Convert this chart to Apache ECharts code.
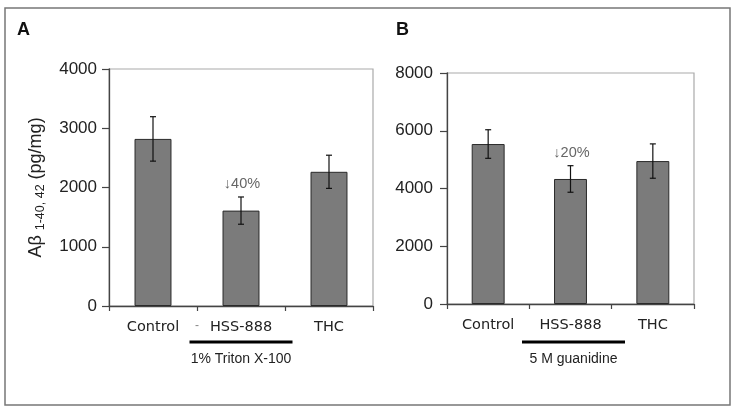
<!DOCTYPE html>
<html>
<head>
<meta charset="utf-8">
<script src="https://cdn.jsdelivr.net/npm/echarts@6/dist/echarts.min.js"></script>
<style>html,body{margin:0;padding:0;background:#fff;}#c{width:732px;height:416px;}</style>
</head>
<body>
<div id="c"></div>
<script>
// ---- data ----
const categories = ['Control', 'HSS-888', 'THC'];
const valuesA = [2820, 1610, 2265];
const errorsA = [375, 230, 280];
const notesA = ['', '↓40%', ''];
const groupLabelA = '1% Triton X-100';
const valuesB = [5540, 4330, 4950];
const errorsB = [495, 460, 595];
const notesB = ['', '↓20%', ''];
const groupLabelB = '5 M guanidine';
const yTicksA = {min: 0, max: 4000, interval: 1000};
const yTicksB = {min: 0, max: 8000, interval: 2000};
const panelLetters = ['A', 'B'];
const yTitleMain = 'Aβ';
const yTitleSub = '1-40, 42';
const yTitleUnit = ' (pg/mg)';

const chart = echarts.init(document.getElementById('c'), null, {renderer: 'canvas'});

function errSeries(xi, yi, vals, errs, notes) {
  return {
    type: 'custom', xAxisIndex: xi, yAxisIndex: yi, z: 5,
    data: vals.map((v, i) => [i, v, errs[i], notes[i]]),
    renderItem: function (params, api) {
      const i = api.value(0), v = api.value(1), e = api.value(2);
      const note = notes[i];
      const hi = api.coord([i, v + e]);
      const lo = api.coord([i, v - e]);
      const cap = 3;
      const st = {stroke: '#111', lineWidth: 1.2};
      const children = [
        {type: 'line', shape: {x1: hi[0], y1: hi[1], x2: lo[0], y2: lo[1]}, style: st},
        {type: 'line', shape: {x1: hi[0] - cap, y1: hi[1], x2: hi[0] + cap, y2: hi[1]}, style: st},
        {type: 'line', shape: {x1: lo[0] - cap, y1: lo[1], x2: lo[0] + cap, y2: lo[1]}, style: st}
      ];
      if (note) {
        children.push({type: 'text', style: {text: note, x: hi[0] + 1, y: hi[1] - 13, align: 'center', verticalAlign: 'middle',
          fill: '#666', font: '14.5px "Liberation Sans", Arial, sans-serif'}});
      }
      return {type: 'group', children: children};
    }
  };
}

const tickFont = {fontFamily: '"Liberation Sans", Arial, sans-serif', fontSize: 17, color: '#222'};
const catFont = {fontFamily: '"DejaVu Sans", sans-serif', fontSize: 14.5, color: '#222'};

function yAxis(gi, t, withName, margin) {
  const o = {
    type: 'value', gridIndex: gi, min: t.min, max: t.max, interval: t.interval,
    axisLine: {show: true, lineStyle: {color: '#444', width: 1.3}},
    axisTick: {show: true, length: 7, lineStyle: {color: '#444', width: 1.2}},
    axisLabel: Object.assign({margin: margin, formatter: function (v) { return String(v); }}, tickFont),
    splitLine: {show: false}
  };
  if (withName) {
    o.name = '{m|' + yTitleMain + ' }{s|' + yTitleSub + '}{m|' + yTitleUnit + '}';
    o.nameLocation = 'middle';
    o.nameRotate = 90;
    o.nameGap = 64;
    o.nameTextStyle = {
      rich: {
        m: {fontFamily: '"Liberation Sans", Arial, sans-serif', fontSize: 18, color: '#222', verticalAlign: 'bottom'},
        s: {fontFamily: '"Liberation Sans", Arial, sans-serif', fontSize: 12.5, color: '#222', verticalAlign: 'bottom', padding: [0, 0, -2, 0]}
      }
    };
  }
  return o;
}

function xAxis(gi) {
  return {
    type: 'category', gridIndex: gi, data: categories,
    axisLine: {show: true, lineStyle: {color: '#444', width: 1.3}},
    axisTick: {show: true, length: 5, lineStyle: {color: '#444', width: 1.2}},
    axisLabel: Object.assign({margin: 14}, catFont)
  };
}

const option = {
  animation: false,
  backgroundColor: '#fff',
  grid: [
    {left: 109, top: 69, width: 264, height: 237, show: true, borderColor: '#aaa', borderWidth: 1.2, backgroundColor: '#fff'},
    {left: 447, top: 73, width: 247, height: 231, show: true, borderColor: '#aaa', borderWidth: 1.2, backgroundColor: '#fff'}
  ],
  xAxis: [xAxis(0), xAxis(1)],
  yAxis: [yAxis(0, yTicksA, true, 12), yAxis(1, yTicksB, false, 14)],
  series: [
    {type: 'bar', xAxisIndex: 0, yAxisIndex: 0, data: valuesA, barWidth: '42%',
      itemStyle: {color: '#7b7b7b', borderColor: '#2a2a2a', borderWidth: 1}},
    errSeries(0, 0, valuesA, errorsA, notesA),
    {type: 'bar', xAxisIndex: 1, yAxisIndex: 1, data: valuesB, barWidth: '40%',
      itemStyle: {color: '#7b7b7b', borderColor: '#2a2a2a', borderWidth: 1}},
    errSeries(1, 1, valuesB, errorsB, notesB)
  ]
};
chart.setOption(option);

// annotations: group underline + label, panel letters, outer frame
const lineHalf = 51.5;
const cA = chart.convertToPixel({xAxisIndex: 0}, categories[1]);
const cB = chart.convertToPixel({xAxisIndex: 1}, categories[1]) + 3;
const baseA = chart.convertToPixel({yAxisIndex: 0}, 0);
const baseB = chart.convertToPixel({yAxisIndex: 1}, 0);
const groupFont = '14px "Liberation Sans", Arial, sans-serif';
chart.setOption({
  graphic: [
    {type: 'rect', shape: {x: 5, y: 8, width: 725, height: 397}, style: {fill: null, stroke: '#777', lineWidth: 1.5}, z: 0, silent: true},
    {type: 'text', left: 17, top: 21, style: {text: panelLetters[0], font: 'bold 18px "Liberation Sans", Arial, sans-serif', fill: '#111'}},
    {type: 'text', left: 396, top: 21, style: {text: panelLetters[1], font: 'bold 18px "Liberation Sans", Arial, sans-serif', fill: '#111'}},
    {type: 'line', shape: {x1: cA - lineHalf, y1: baseA + 36, x2: cA + lineHalf, y2: baseA + 36}, style: {stroke: '#000', lineWidth: 3}},
    {type: 'line', shape: {x1: cB - lineHalf, y1: baseB + 38, x2: cB + lineHalf, y2: baseB + 38}, style: {stroke: '#000', lineWidth: 3}},
    {type: 'text', x: cA, y: baseA + 53, style: {text: groupLabelA, font: groupFont, fill: '#222', align: 'center', verticalAlign: 'middle'}},
    {type: 'text', x: cB, y: baseB + 55, style: {text: groupLabelB, font: groupFont, fill: '#222', align: 'center', verticalAlign: 'middle'}},
    {type: 'text', x: 197, y: baseA + 20, style: {text: '-', font: '12px "Liberation Sans", Arial, sans-serif', fill: '#888', align: 'center', verticalAlign: 'middle'}}
  ]
});
</script>
</body>
</html>
